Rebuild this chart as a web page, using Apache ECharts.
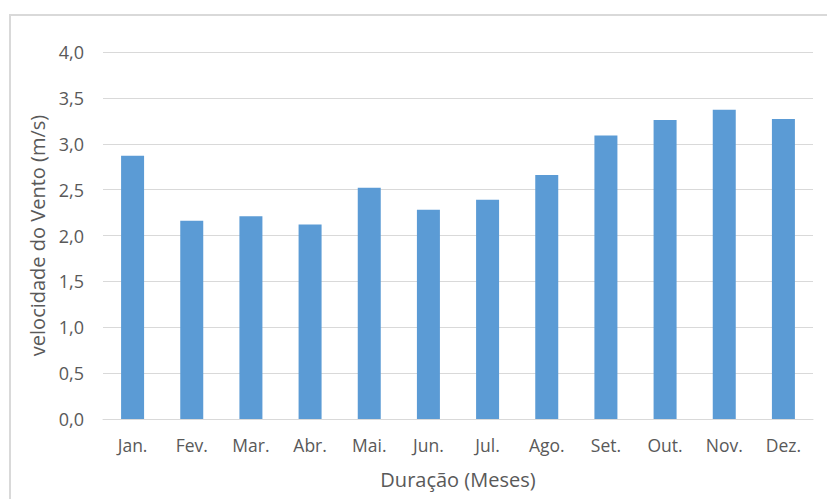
<!DOCTYPE html>
<html>
<head>
<meta charset="utf-8">
<script src="https://cdn.jsdelivr.net/npm/echarts@6/dist/echarts.min.js"></script>
<style>
  html, body { margin: 0; padding: 0; background: #fff; }
  #chart { width: 827px; height: 499px; }
</style>
</head>
<body>
<div id="chart"></div>
<script>
// Monthly mean wind speed (m/s)
const months = ['Jan.', 'Fev.', 'Mar.', 'Abr.', 'Mai.', 'Jun.', 'Jul.', 'Ago.', 'Set.', 'Out.', 'Nov.', 'Dez.'];
const windSpeed = [2.87, 2.16, 2.21, 2.12, 2.52, 2.28, 2.39, 2.66, 3.09, 3.26, 3.37, 3.27];

const fontFamily = '"Open Sans", sans-serif';
const textColor = '#595959';
const gridLine = '#d9d9d9';

const chart = echarts.init(document.getElementById('chart'), null, { renderer: 'svg' });
chart.setOption({
  animation: false,
  graphic: [{
    type: 'rect',
    shape: { x: 10, y: 15, width: 900, height: 600 },
    style: { fill: 'none', stroke: '#d9d9d9', lineWidth: 2 },
    z: -1
  }],
  grid: { left: 103, right: 14, top: 52, bottom: 80 },
  xAxis: {
    type: 'category',
    data: months,
    name: 'Duração (Meses)',
    nameLocation: 'middle',
    nameGap: 50,
    nameTextStyle: { fontFamily, fontSize: 20, color: textColor },
    axisLine: { lineStyle: { color: gridLine, width: 1 } },
    axisTick: { show: false },
    axisLabel: { fontFamily, fontSize: 17.5, color: textColor, margin: 17 }
  },
  yAxis: {
    type: 'value',
    min: 0, max: 4, interval: 0.5,
    name: 'velocidade do Vento (m/s)',
    nameLocation: 'middle',
    nameRotate: 90,
    nameGap: 56,
    nameTextStyle: { fontFamily, fontSize: 20, color: textColor },
    axisLine: { show: false },
    axisTick: { show: false },
    axisLabel: {
      fontFamily, fontSize: 18, color: textColor, margin: 19,
      formatter: v => v.toFixed(1).replace('.', ',')
    },
    splitLine: { lineStyle: { color: gridLine, width: 1 } }
  },
  series: [{
    type: 'bar',
    data: windSpeed,
    barWidth: 23,
    itemStyle: { color: '#5b9bd5' }
  }]
});
</script>
</body>
</html>
